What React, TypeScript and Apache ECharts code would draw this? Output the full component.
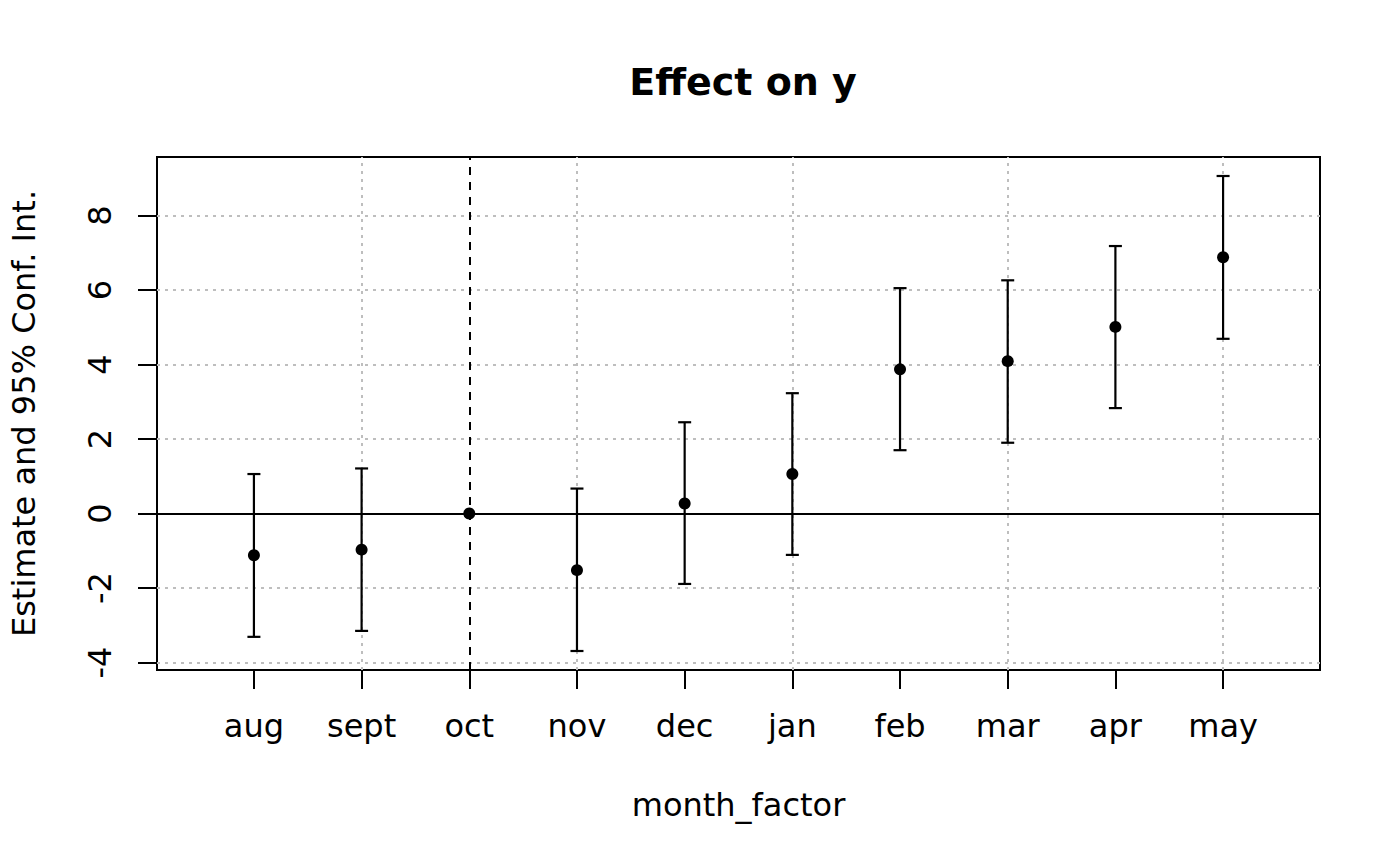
import React, { useEffect, useRef } from "react";
import * as echarts from "echarts";

const months = ["aug", "sept", "oct", "nov", "dec", "jan", "feb", "mar", "apr", "may"];
const positions = [1, 2, 3, 4, 5, 6, 7, 8, 9, 10];
const estimates = [-1.12, -0.97, 0, -1.52, 0.27, 1.06, 3.87, 4.09, 5.01, 6.88];
const ciLow = [-3.31, -3.15, null, -3.69, -1.89, -1.11, 1.7, 1.9, 2.83, 4.69];
const ciHigh = [1.06, 1.21, null, 0.67, 2.45, 3.23, 6.05, 6.26, 7.18, 9.06];
const yTicks = [-4, -2, 0, 2, 4, 6, 8];
const yGridLines = [-4, -2, 2, 4, 6, 8];
const xGridLines = [2, 4, 6, 8, 10];
const refX = 3;
const refY = 0;

const FONT = "DejaVu Sans";

export default function App() {
  const ref = useRef<HTMLDivElement>(null);

  useEffect(() => {
    if (!ref.current) return;
    const chart = echarts.init(ref.current, null, { renderer: "svg" });

    const pointData = positions.map((p, i) => [p, estimates[i]]);
    const barData = positions
      .map((p, i) => [p, ciLow[i], ciHigh[i]])
      .filter((d) => d[1] !== null && d[2] !== null);

    const gridStyle = { color: "#bebebe", width: 2, type: [3, 5] as any };

    chart.setOption({
      animation: false,
      backgroundColor: "#ffffff",
      title: {
        text: "Effect on y",
        left: 738,
        top: 58,
        textAlign: "center",
        textStyle: { fontFamily: FONT, fontSize: 38, fontWeight: "bold", color: "#000" },
      },
      grid: {
        left: 157,
        top: 157,
        width: 1163,
        height: 513,
        show: true,
        borderColor: "#000",
        borderWidth: 2,
        backgroundColor: "transparent",
      },
      xAxis: {
        type: "value",
        min: 0.1,
        max: 10.9,
        name: "month_factor",
        nameLocation: "middle",
        nameGap: 119,
        nameTextStyle: { fontFamily: FONT, fontSize: 32, color: "#000" },
        axisLine: { show: false, onZero: false },
        splitLine: { show: false },
        axisTick: {
          show: true,
          length: 19,
          lineStyle: { color: "#000", width: 2 },
          customValues: positions,
        },
        axisLabel: {
          customValues: positions,
          margin: 40,
          fontFamily: FONT,
          fontSize: 32,
          color: "#000",
          formatter: (v: number) => months[Math.round(v) - 1] ?? "",
        },
      },
      yAxis: {
        type: "value",
        min: -4.2,
        max: 9.57,
        name: "Estimate and 95% Conf. Int.",
        nameLocation: "middle",
        nameGap: 117,
        nameTextStyle: { fontFamily: FONT, fontSize: 32, color: "#000" },
        axisLine: { show: false, onZero: false },
        splitLine: { show: false },
        axisTick: {
          show: true,
          length: 19,
          lineStyle: { color: "#000", width: 2 },
          customValues: yTicks,
        },
        axisLabel: {
          customValues: yTicks,
          rotate: 90,
          margin: 41,
          fontFamily: FONT,
          fontSize: 32,
          color: "#000",
        },
      },
      series: [
        {
          type: "scatter",
          data: [],
          z: 1,
          silent: true,
          markLine: {
            z: 1,
            silent: true,
            symbol: ["none", "none"],
            label: { show: false },
            lineStyle: gridStyle,
            data: [
              ...yGridLines.map((v) => ({ yAxis: v })),
              ...xGridLines.map((v) => ({ xAxis: v })),
            ],
          },
        },
        {
          type: "scatter",
          data: [],
          z: 2,
          silent: true,
          markLine: {
            z: 2,
            silent: true,
            symbol: ["none", "none"],
            label: { show: false },
            data: [
              { yAxis: refY, lineStyle: { color: "#000", width: 2, type: "solid" } },
              { xAxis: refX, lineStyle: { color: "#000", width: 2, type: [8, 7] } },
            ],
          },
        },
        {
          type: "custom",
          z: 3,
          data: barData,
          renderItem: (params: any, api: any) => {
            const x = api.value(0);
            const lo = api.coord([x, api.value(1)]);
            const hi = api.coord([x, api.value(2)]);
            const hw = 6.5;
            const style = { stroke: "#000", lineWidth: 2.2 };
            return {
              type: "group",
              children: [
                { type: "line", shape: { x1: lo[0], y1: lo[1], x2: hi[0], y2: hi[1] }, style },
                { type: "line", shape: { x1: lo[0] - hw, y1: lo[1], x2: lo[0] + hw, y2: lo[1] }, style },
                { type: "line", shape: { x1: hi[0] - hw, y1: hi[1], x2: hi[0] + hw, y2: hi[1] }, style },
              ],
            };
          },
        },
        {
          type: "scatter",
          z: 4,
          data: pointData,
          symbol: "circle",
          symbolSize: 12,
          itemStyle: { color: "#000", opacity: 1 },
        },
      ],
    });

    return () => chart.dispose();
  }, []);

  return (
    <div
      ref={ref}
      style={{ position: "fixed", left: 0, top: 0, width: 1400, height: 866, background: "#fff" }}
    />
  );
}
